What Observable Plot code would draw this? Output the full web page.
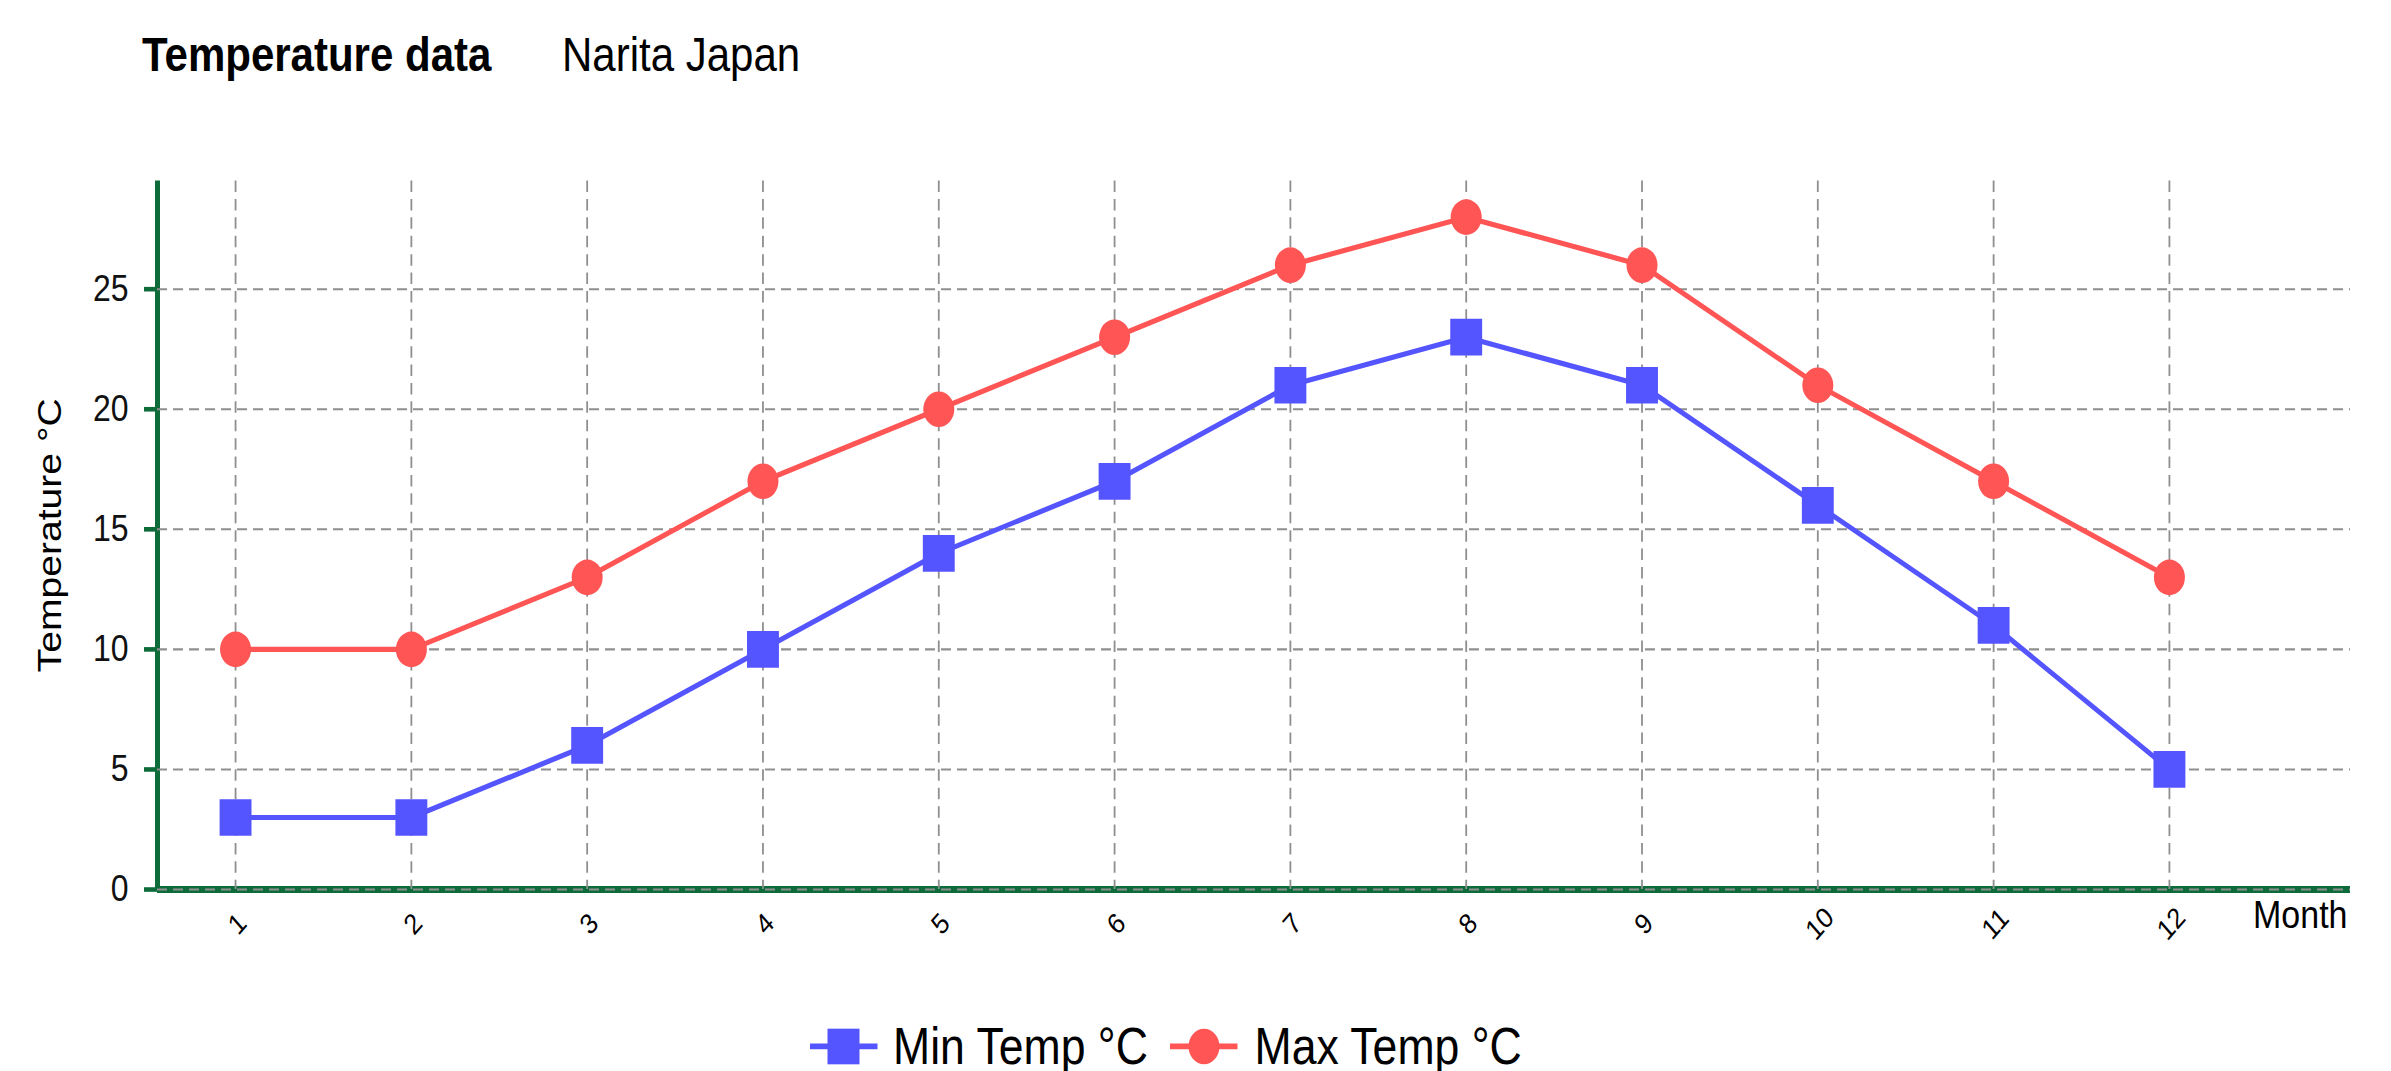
<!DOCTYPE html>
<html>
<head>
<meta charset="utf-8">
<script src="https://cdn.jsdelivr.net/npm/d3@7"></script>
<script src="https://cdn.jsdelivr.net/npm/@observablehq/plot@0.6"></script>
<style>
  html, body { margin: 0; padding: 0; background: #fff; overflow: hidden; }
  body { width: 2391px; height: 1071px; font-family: "Liberation Sans", Arial, sans-serif; }
  #stage { position: absolute; left: 0; top: 0; width: 2391px; height: 932px; transform: scaleY(1.15); transform-origin: 0 0; }
  .title { position: absolute; top: 27px; font-size: 42px; line-height: 42px; color: #000; white-space: nowrap; }
  #chart { position: absolute; left: 0; top: 0; }
  .lg-icon { position: absolute; top: 893px; display: block; }
  .lg-text { position: absolute; top: 887.5px; font-size: 44.6px; line-height: 44.6px; color: #000; white-space: nowrap; }
</style>
</head>
<body>
<div id="stage">
  <div class="title" id="t1" style="left:142px;font-weight:bold;"></div>
  <div class="title" id="t2" style="left:562px;"></div>
  <div id="chart"></div>
  <div id="legend"></div>
</div>
<script>
const months = [1, 2, 3, 4, 5, 6, 7, 8, 9, 10, 11, 12];
const minTemp = [3, 3, 6, 10, 14, 17, 21, 23, 21, 16, 11, 5];
const maxTemp = [10, 10, 13, 17, 20, 23, 26, 28, 26, 21, 17, 13];
const yTicks = [0, 5, 10, 15, 20, 25];
const seriesNames = ["Min Temp °C", "Max Temp °C"];
const seriesColors = ["#5555ff", "#ff5555"];
const titleText = "Temperature data";
const subtitleText = "Narita Japan";
const xLabel = "Month";
const yLabel = "Temperature °C";

document.getElementById("t1").textContent = titleText;
document.getElementById("t2").textContent = subtitleText;

const rows = months.map((m, i) => ({month: m, min: minTemp[i], max: maxTemp[i]}));
const green = "#0d6b3a";
const gridColor = "#8f8f8f";

const chart = Plot.plot({
  width: 2391,
  height: 860,
  marginLeft: 157,
  marginRight: 41,
  marginTop: 157,
  marginBottom: 87,
  x: {domain: [0.556, 13.03], axis: null},
  y: {domain: [0, 29.5], axis: null},
  style: {fontFamily: "'Liberation Sans', Arial, sans-serif", background: "transparent", overflow: "visible"},
  marks: [
    Plot.ruleX([0.556], {stroke: green, strokeWidth: 5}),
    Plot.ruleY([0], {stroke: green, strokeWidth: 6}),
    Plot.ruleY(yTicks, {stroke: gridColor, strokeWidth: 1.8, strokeDasharray: "10,6"}),
    Plot.ruleX(months, {stroke: gridColor, strokeWidth: 1.8, strokeDasharray: "10,6"}),
    Plot.axisY(yTicks, {tickSize: 13, tickPadding: 16, fontSize: 32, stroke: green, strokeWidth: 4, fill: "#111", label: null, tickFormat: d => String(d)}),
    Plot.line(rows, {x: "month", y: "min", stroke: seriesColors[0], strokeWidth: 4.5}),
    Plot.line(rows, {x: "month", y: "max", stroke: seriesColors[1], strokeWidth: 4.5}),
    Plot.dot(rows, {x: "month", y: "min", symbol: "square", r: 18, fill: seriesColors[0], stroke: "none"}),
    Plot.dot(rows, {x: "month", y: "max", symbol: "circle", r: 15.5, fill: seriesColors[1], stroke: "none"}),
    Plot.text(months, {x: d => d, y: () => 0, dy: 30, dx: 2, rotate: -45, fontSize: 25, fill: "#000", text: d => String(d)}),
    Plot.text([xLabel], {frameAnchor: "bottom-right", textAnchor: "end", lineAnchor: "middle", dx: -3, dy: 23, fontSize: 34, fill: "#000", text: d => d}),
    Plot.text([yLabel], {frameAnchor: "left", textAnchor: "middle", lineAnchor: "middle", rotate: -90, dx: -107, fontSize: 34, fill: "#000", text: d => d})
  ]
});
document.getElementById("chart").appendChild(chart);

// Legend
const legend = document.getElementById("legend");
const iconLeft = [810, 1170];
const textLeft = [893, 1254.5];
const ns = "http://www.w3.org/2000/svg";
seriesNames.forEach((name, i) => {
  const svg = document.createElementNS(ns, "svg");
  svg.setAttribute("class", "lg-icon");
  svg.setAttribute("width", "68");
  svg.setAttribute("height", "34");
  svg.style.left = iconLeft[i] + "px";
  const line = document.createElementNS(ns, "line");
  line.setAttribute("x1", "0"); line.setAttribute("x2", "67.5");
  line.setAttribute("y1", "17"); line.setAttribute("y2", "17");
  line.setAttribute("stroke", seriesColors[i]); line.setAttribute("stroke-width", "5");
  svg.appendChild(line);
  let shape;
  if (i === 0) {
    shape = document.createElementNS(ns, "rect");
    shape.setAttribute("x", "17.5"); shape.setAttribute("y", "1.5");
    shape.setAttribute("width", "32"); shape.setAttribute("height", "31");
  } else {
    shape = document.createElementNS(ns, "circle");
    shape.setAttribute("cx", "34"); shape.setAttribute("cy", "17"); shape.setAttribute("r", "15.5");
  }
  shape.setAttribute("fill", seriesColors[i]);
  svg.appendChild(shape);
  legend.appendChild(svg);
  const span = document.createElement("div");
  span.className = "lg-text";
  span.style.left = textLeft[i] + "px";
  span.textContent = name;
  legend.appendChild(span);
});
</script>
</body>
</html>
